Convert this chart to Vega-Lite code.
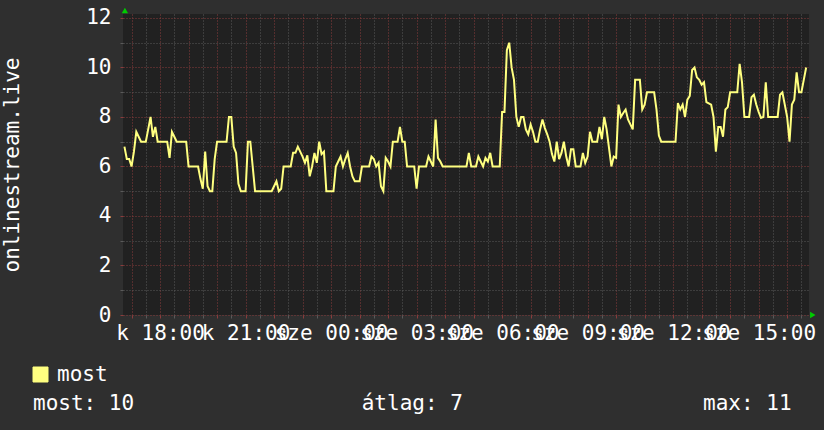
{
  "$schema": "https://vega.github.io/schema/vega-lite/v6.json",
  "autosize": {"type": "none"},
  "padding": {"left": 123, "top": 14, "right": 15, "bottom": 115},
  "width": 686,
  "height": 301,
  "background": "#2f2f2f",
  "config": {
    "font": "DejaVu Sans Mono",
    "view": {"fill": "#212121", "stroke": null}
  },
  "title": {
    "text": "most: 10\u00a0\u00a0\u00a0\u00a0\u00a0\u00a0\u00a0\u00a0\u00a0\u00a0\u00a0\u00a0\u00a0\u00a0\u00a0\u00a0\u00a0\u00a0átlag: 7\u00a0\u00a0\u00a0\u00a0\u00a0\u00a0\u00a0\u00a0\u00a0\u00a0\u00a0\u00a0\u00a0\u00a0\u00a0\u00a0\u00a0\u00a0\u00a0max: 11",
    "orient": "bottom",
    "anchor": "start",
    "frame": "group",
    "dx": -90,
    "offset": 8,
    "font": "DejaVu Sans Mono",
    "fontSize": 21,
    "fontWeight": "normal",
    "color": "#ffffff",
    "limit": 1000
  },
  "datasets": {
    "series": [
      {"t":"2024-01-02T16:45","v":6.8},{"t":"2024-01-02T16:50","v":6.3},{"t":"2024-01-02T16:55","v":6.3},
      {"t":"2024-01-02T17:00","v":6.0},{"t":"2024-01-02T17:05","v":6.6},{"t":"2024-01-02T17:10","v":7.4},{"t":"2024-01-02T17:15","v":7.2},{"t":"2024-01-02T17:20","v":7},{"t":"2024-01-02T17:25","v":7},{"t":"2024-01-02T17:30","v":7},{"t":"2024-01-02T17:35","v":7.5},{"t":"2024-01-02T17:40","v":8},{"t":"2024-01-02T17:45","v":7.2},{"t":"2024-01-02T17:50","v":7.6},{"t":"2024-01-02T17:55","v":7},
      {"t":"2024-01-02T18:00","v":7},{"t":"2024-01-02T18:05","v":7},{"t":"2024-01-02T18:10","v":7},{"t":"2024-01-02T18:15","v":7},{"t":"2024-01-02T18:20","v":6.35},{"t":"2024-01-02T18:25","v":7.4},{"t":"2024-01-02T18:30","v":7.2},{"t":"2024-01-02T18:35","v":7},{"t":"2024-01-02T18:40","v":7},{"t":"2024-01-02T18:45","v":7},{"t":"2024-01-02T18:50","v":7},{"t":"2024-01-02T18:55","v":7},
      {"t":"2024-01-02T19:00","v":6},{"t":"2024-01-02T19:05","v":6},{"t":"2024-01-02T19:10","v":6},{"t":"2024-01-02T19:15","v":6},{"t":"2024-01-02T19:20","v":6},{"t":"2024-01-02T19:25","v":5.5},{"t":"2024-01-02T19:30","v":5.1},{"t":"2024-01-02T19:35","v":6.6},{"t":"2024-01-02T19:40","v":5.2},{"t":"2024-01-02T19:45","v":5},{"t":"2024-01-02T19:50","v":5},{"t":"2024-01-02T19:55","v":6.3},
      {"t":"2024-01-02T20:00","v":7},{"t":"2024-01-02T20:05","v":7},{"t":"2024-01-02T20:10","v":7},{"t":"2024-01-02T20:15","v":7},{"t":"2024-01-02T20:20","v":7},{"t":"2024-01-02T20:25","v":8},{"t":"2024-01-02T20:30","v":8},{"t":"2024-01-02T20:35","v":6.8},{"t":"2024-01-02T20:40","v":6.55},{"t":"2024-01-02T20:45","v":5.3},{"t":"2024-01-02T20:50","v":5},{"t":"2024-01-02T20:55","v":5},
      {"t":"2024-01-02T21:00","v":5},{"t":"2024-01-02T21:05","v":7},{"t":"2024-01-02T21:10","v":7},{"t":"2024-01-02T21:15","v":6},{"t":"2024-01-02T21:20","v":5},{"t":"2024-01-02T21:25","v":5},{"t":"2024-01-02T21:30","v":5},{"t":"2024-01-02T21:35","v":5},{"t":"2024-01-02T21:40","v":5},{"t":"2024-01-02T21:45","v":5},{"t":"2024-01-02T21:50","v":5},{"t":"2024-01-02T21:55","v":5},
      {"t":"2024-01-02T22:00","v":5.2},{"t":"2024-01-02T22:05","v":5.4},{"t":"2024-01-02T22:10","v":5},{"t":"2024-01-02T22:15","v":5.1},{"t":"2024-01-02T22:20","v":6},{"t":"2024-01-02T22:25","v":6},{"t":"2024-01-02T22:30","v":6},{"t":"2024-01-02T22:35","v":6},{"t":"2024-01-02T22:40","v":6.55},{"t":"2024-01-02T22:45","v":6.55},{"t":"2024-01-02T22:50","v":6.8},{"t":"2024-01-02T22:55","v":6.6},
      {"t":"2024-01-02T23:00","v":6.4},{"t":"2024-01-02T23:05","v":6.15},{"t":"2024-01-02T23:10","v":6.45},{"t":"2024-01-02T23:15","v":5.6},{"t":"2024-01-02T23:20","v":6},{"t":"2024-01-02T23:25","v":6.55},{"t":"2024-01-02T23:30","v":6.15},{"t":"2024-01-02T23:35","v":7},{"t":"2024-01-02T23:40","v":6.5},{"t":"2024-01-02T23:45","v":6.6},{"t":"2024-01-02T23:50","v":5},{"t":"2024-01-02T23:55","v":5},
      {"t":"2024-01-03T00:00","v":5},{"t":"2024-01-03T00:05","v":5},{"t":"2024-01-03T00:10","v":6},{"t":"2024-01-03T00:15","v":6.2},{"t":"2024-01-03T00:20","v":6.4},{"t":"2024-01-03T00:25","v":6},{"t":"2024-01-03T00:30","v":6.3},{"t":"2024-01-03T00:35","v":6.55},{"t":"2024-01-03T00:40","v":6},{"t":"2024-01-03T00:45","v":5.6},{"t":"2024-01-03T00:50","v":5.4},{"t":"2024-01-03T00:55","v":5.4},
      {"t":"2024-01-03T01:00","v":5.4},{"t":"2024-01-03T01:05","v":6},{"t":"2024-01-03T01:10","v":6},{"t":"2024-01-03T01:15","v":6},{"t":"2024-01-03T01:20","v":6},{"t":"2024-01-03T01:25","v":6.4},{"t":"2024-01-03T01:30","v":6.3},{"t":"2024-01-03T01:35","v":6},{"t":"2024-01-03T01:40","v":6.15},{"t":"2024-01-03T01:45","v":5.2},{"t":"2024-01-03T01:50","v":5},{"t":"2024-01-03T01:55","v":6.35},
      {"t":"2024-01-03T02:00","v":6.2},{"t":"2024-01-03T02:05","v":6},{"t":"2024-01-03T02:10","v":7},{"t":"2024-01-03T02:15","v":7},{"t":"2024-01-03T02:20","v":7},{"t":"2024-01-03T02:25","v":7.6},{"t":"2024-01-03T02:30","v":7},{"t":"2024-01-03T02:35","v":7},{"t":"2024-01-03T02:40","v":6},{"t":"2024-01-03T02:45","v":6},{"t":"2024-01-03T02:50","v":6},{"t":"2024-01-03T02:55","v":6},
      {"t":"2024-01-03T03:00","v":5.1},{"t":"2024-01-03T03:05","v":6},{"t":"2024-01-03T03:10","v":6},{"t":"2024-01-03T03:15","v":6},{"t":"2024-01-03T03:20","v":6},{"t":"2024-01-03T03:25","v":6.4},{"t":"2024-01-03T03:30","v":6.2},{"t":"2024-01-03T03:35","v":6},{"t":"2024-01-03T03:40","v":7.9},{"t":"2024-01-03T03:45","v":6.35},{"t":"2024-01-03T03:50","v":6.2},{"t":"2024-01-03T03:55","v":6},
      {"t":"2024-01-03T04:00","v":6},{"t":"2024-01-03T04:05","v":6},{"t":"2024-01-03T04:10","v":6},{"t":"2024-01-03T04:15","v":6},{"t":"2024-01-03T04:20","v":6},{"t":"2024-01-03T04:25","v":6},{"t":"2024-01-03T04:30","v":6},{"t":"2024-01-03T04:35","v":6},{"t":"2024-01-03T04:40","v":6},{"t":"2024-01-03T04:45","v":6},{"t":"2024-01-03T04:50","v":6.55},{"t":"2024-01-03T04:55","v":6},
      {"t":"2024-01-03T05:00","v":6},{"t":"2024-01-03T05:05","v":6},{"t":"2024-01-03T05:10","v":6.4},{"t":"2024-01-03T05:15","v":6.2},{"t":"2024-01-03T05:20","v":6},{"t":"2024-01-03T05:25","v":6.35},{"t":"2024-01-03T05:30","v":6.2},{"t":"2024-01-03T05:35","v":6.55},{"t":"2024-01-03T05:40","v":6},{"t":"2024-01-03T05:45","v":6},{"t":"2024-01-03T05:50","v":6},{"t":"2024-01-03T05:55","v":6},
      {"t":"2024-01-03T06:00","v":8.2},{"t":"2024-01-03T06:05","v":8.2},{"t":"2024-01-03T06:10","v":10.7},{"t":"2024-01-03T06:15","v":11},{"t":"2024-01-03T06:20","v":10},{"t":"2024-01-03T06:25","v":9.5},{"t":"2024-01-03T06:30","v":8},{"t":"2024-01-03T06:35","v":7.6},{"t":"2024-01-03T06:40","v":8},{"t":"2024-01-03T06:45","v":8},{"t":"2024-01-03T06:50","v":7.5},{"t":"2024-01-03T06:55","v":7.3},
      {"t":"2024-01-03T07:00","v":7.7},{"t":"2024-01-03T07:05","v":7.4},{"t":"2024-01-03T07:10","v":7},{"t":"2024-01-03T07:15","v":7},{"t":"2024-01-03T07:20","v":7.5},{"t":"2024-01-03T07:25","v":7.9},{"t":"2024-01-03T07:30","v":7.55},{"t":"2024-01-03T07:35","v":7.3},{"t":"2024-01-03T07:40","v":7},{"t":"2024-01-03T07:45","v":6.5},{"t":"2024-01-03T07:50","v":6.2},{"t":"2024-01-03T07:55","v":7},
      {"t":"2024-01-03T08:00","v":6.3},{"t":"2024-01-03T08:05","v":6.55},{"t":"2024-01-03T08:10","v":7},{"t":"2024-01-03T08:15","v":6.4},{"t":"2024-01-03T08:20","v":6},{"t":"2024-01-03T08:25","v":6.7},{"t":"2024-01-03T08:30","v":6.7},{"t":"2024-01-03T08:35","v":6},{"t":"2024-01-03T08:40","v":6},{"t":"2024-01-03T08:45","v":6},{"t":"2024-01-03T08:50","v":6.55},{"t":"2024-01-03T08:55","v":6.15},
      {"t":"2024-01-03T09:00","v":6.4},{"t":"2024-01-03T09:05","v":7.4},{"t":"2024-01-03T09:10","v":7},{"t":"2024-01-03T09:15","v":7},{"t":"2024-01-03T09:20","v":7},{"t":"2024-01-03T09:25","v":7.6},{"t":"2024-01-03T09:30","v":7.1},{"t":"2024-01-03T09:35","v":8},{"t":"2024-01-03T09:40","v":7.5},{"t":"2024-01-03T09:45","v":6.75},{"t":"2024-01-03T09:50","v":6},{"t":"2024-01-03T09:55","v":6.4},
      {"t":"2024-01-03T10:00","v":6.35},{"t":"2024-01-03T10:05","v":8.5},{"t":"2024-01-03T10:10","v":8},{"t":"2024-01-03T10:15","v":8.16},{"t":"2024-01-03T10:20","v":8.3},{"t":"2024-01-03T10:25","v":7.9},{"t":"2024-01-03T10:30","v":7.7},{"t":"2024-01-03T10:35","v":7.5},{"t":"2024-01-03T10:40","v":9.5},{"t":"2024-01-03T10:45","v":9.5},{"t":"2024-01-03T10:50","v":9.5},{"t":"2024-01-03T10:55","v":8.3},
      {"t":"2024-01-03T11:00","v":8.5},{"t":"2024-01-03T11:05","v":9},{"t":"2024-01-03T11:10","v":9},{"t":"2024-01-03T11:15","v":9},{"t":"2024-01-03T11:20","v":9},{"t":"2024-01-03T11:25","v":8.3},{"t":"2024-01-03T11:30","v":7.25},{"t":"2024-01-03T11:35","v":7},{"t":"2024-01-03T11:40","v":7},{"t":"2024-01-03T11:45","v":7},{"t":"2024-01-03T11:50","v":7},{"t":"2024-01-03T11:55","v":7},
      {"t":"2024-01-03T12:00","v":7},{"t":"2024-01-03T12:05","v":7},{"t":"2024-01-03T12:10","v":8.56},{"t":"2024-01-03T12:15","v":8.3},{"t":"2024-01-03T12:20","v":8.5},{"t":"2024-01-03T12:25","v":8},{"t":"2024-01-03T12:30","v":8.7},{"t":"2024-01-03T12:35","v":8.85},{"t":"2024-01-03T12:40","v":9.9},{"t":"2024-01-03T12:45","v":10},{"t":"2024-01-03T12:50","v":9.6},{"t":"2024-01-03T12:55","v":9.5},
      {"t":"2024-01-03T13:00","v":9.3},{"t":"2024-01-03T13:05","v":9.4},{"t":"2024-01-03T13:10","v":8.6},{"t":"2024-01-03T13:15","v":8.55},{"t":"2024-01-03T13:20","v":8.5},{"t":"2024-01-03T13:25","v":8},{"t":"2024-01-03T13:30","v":6.6},{"t":"2024-01-03T13:35","v":7.6},{"t":"2024-01-03T13:40","v":7.6},{"t":"2024-01-03T13:45","v":7.2},{"t":"2024-01-03T13:50","v":8.3},{"t":"2024-01-03T13:55","v":8.4},
      {"t":"2024-01-03T14:00","v":9},{"t":"2024-01-03T14:05","v":9},{"t":"2024-01-03T14:10","v":9},{"t":"2024-01-03T14:15","v":9},{"t":"2024-01-03T14:20","v":10.15},{"t":"2024-01-03T14:25","v":9.4},{"t":"2024-01-03T14:30","v":8},{"t":"2024-01-03T14:35","v":8},{"t":"2024-01-03T14:40","v":8},{"t":"2024-01-03T14:45","v":8.8},{"t":"2024-01-03T14:50","v":8.9},{"t":"2024-01-03T14:55","v":8.5},
      {"t":"2024-01-03T15:00","v":8.2},{"t":"2024-01-03T15:05","v":7.96},{"t":"2024-01-03T15:10","v":8},{"t":"2024-01-03T15:15","v":9.4},{"t":"2024-01-03T15:20","v":8},{"t":"2024-01-03T15:25","v":8},{"t":"2024-01-03T15:30","v":8},{"t":"2024-01-03T15:35","v":8},{"t":"2024-01-03T15:40","v":8},{"t":"2024-01-03T15:45","v":8.9},{"t":"2024-01-03T15:50","v":9},{"t":"2024-01-03T15:55","v":8.5},
      {"t":"2024-01-03T16:00","v":8},{"t":"2024-01-03T16:05","v":7},{"t":"2024-01-03T16:10","v":8.5},{"t":"2024-01-03T16:15","v":8.7},{"t":"2024-01-03T16:20","v":9.8},{"t":"2024-01-03T16:25","v":9},{"t":"2024-01-03T16:30","v":9},{"t":"2024-01-03T16:35","v":9.5},{"t":"2024-01-03T16:40","v":10}
    ],
    "arrows": [
      {"t":"2024-01-02T16:46","v":12.3,"d":"up"},
      {"t":"2024-01-03T16:54","v":0,"d":"right"}
    ]
  },
  "encoding": {
    "x": {
      "field": "t", "type": "temporal",
      "scale": {"domain": [
        {"year": 2024, "month": 1, "date": 2, "hours": 16, "minutes": 42},
        {"year": 2024, "month": 1, "date": 3, "hours": 16, "minutes": 46}
      ]},
      "axis": {
        "title": null,
        "tickCount": 48,
        "grid": true,
        "gridDash": [1, 2],
        "gridColor": {"condition": {"test": "minutes(datum.value) == 0", "value": "#8a3c3c"}, "value": "#5a5a5a"},
        "tickColor": {"condition": {"test": "minutes(datum.value) == 0", "value": "#8a3c3c"}, "value": "#5a5a5a"},
        "tickSize": 3,
        "domain": false,
        "labelExpr": "(minutes(datum.value) == 0 && hours(datum.value) % 3 == 0) ? ((day(datum.value) == 2 ? 'k' : 'sze') + ' ' + timeFormat(datum.value, '%H:%M')) : ''",
        "labelOverlap": false,
        "labelFlush": false,
        "labelFontSize": 21,
        "labelColor": "#ffffff",
        "labelPadding": 4
      }
    },
    "y": {
      "field": "v", "type": "quantitative",
      "scale": {"domain": [0, 12.16], "nice": false, "zero": true},
      "axis": {
        "title": "onlinestream.live",
        "titleFontSize": 21,
        "titleFontWeight": "normal",
        "titleColor": "#ffffff",
        "titlePadding": 63,
        "values": [0, 1, 2, 3, 4, 5, 6, 7, 8, 9, 10, 11, 12],
        "grid": true,
        "gridDash": [1, 2],
        "gridColor": {"condition": {"test": "datum.value % 2 == 0", "value": "#8a3c3c"}, "value": "#5a5a5a"},
        "tickColor": {"condition": {"test": "datum.value % 2 == 0", "value": "#8a3c3c"}, "value": "#5a5a5a"},
        "tickSize": 3,
        "domain": false,
        "labelExpr": "datum.value % 2 == 0 ? datum.label : ''",
        "labelFontSize": 21,
        "labelColor": "#ffffff",
        "labelPadding": 9
      }
    }
  },
  "layer": [
    {
      "data": {"name": "series"},
      "mark": {"type": "line", "strokeWidth": 2, "interpolate": "linear"},
      "encoding": {
        "color": {
          "datum": "most",
          "scale": {"range": ["#ffff80"]},
          "legend": {
            "orient": "none",
            "legendX": -93,
            "legendY": 350,
            "title": null,
            "labelFontSize": 21,
            "labelColor": "#ffffff",
            "labelOffset": 6,
            "symbolType": "square",
            "symbolSize": 225,
            "symbolStrokeWidth": 1,
            "encode": {
              "symbols": {
                "update": {
                  "fill": {"value": "#ffff80"},
                  "stroke": {"value": "#000000"}
                }
              }
            }
          }
        }
      }
    },
    {
      "data": {"name": "arrows"},
      "mark": {"type": "point", "filled": true, "size": 40, "color": "#00cc00", "opacity": 1},
      "encoding": {
        "shape": {
          "field": "d", "type": "nominal",
          "scale": {"domain": ["up", "right"], "range": ["triangle-up", "triangle-right"]},
          "legend": null
        }
      }
    }
  ]
}
